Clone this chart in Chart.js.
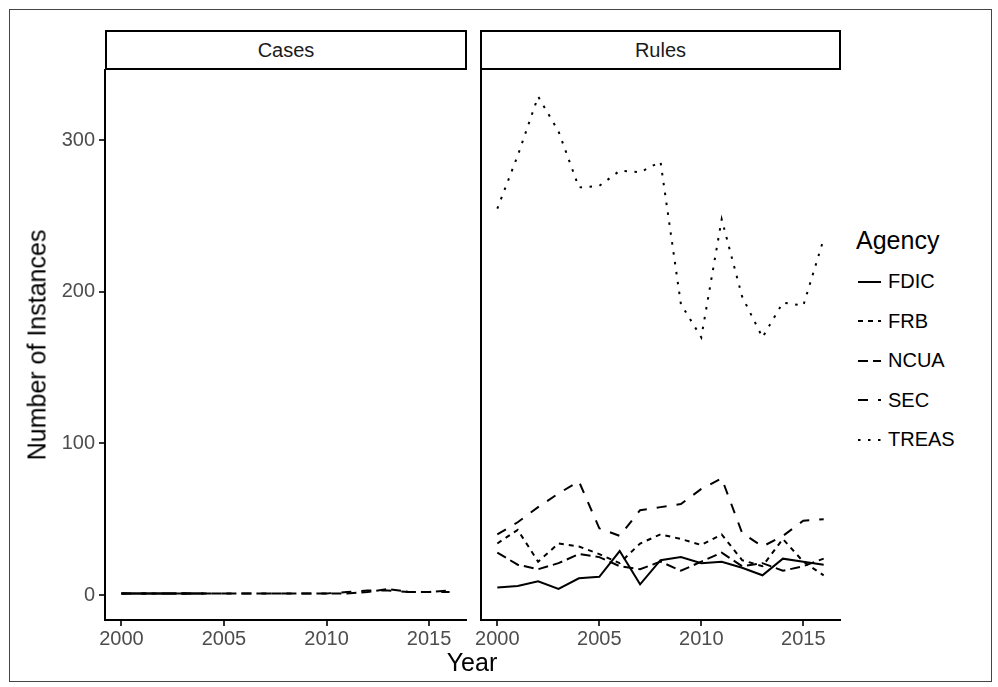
<!DOCTYPE html>
<html>
<head>
<meta charset="utf-8">
<script src="https://cdn.jsdelivr.net/npm/chart.js@4/dist/chart.umd.min.js"></script>
<style>
  body { margin: 0; background: #fff; font-family: "Liberation Sans", Arial, sans-serif; }
  #wrap { position: relative; width: 998px; height: 687px; overflow: hidden; }
  #frame { position: absolute; left: 9px; top: 9px; width: 983px; height: 673px; border: 1px solid #444; box-sizing: border-box; }
  canvas { position: absolute; top: 0; }
  .strip { position: absolute; top: 30px; height: 40px; border: 2px solid #000; box-sizing: border-box;
           background: #fff; text-align: center; line-height: 36px; font-size: 20px; color: #1a1a1a; }
  #ytitle { position: absolute; left: 37px; top: 345px; transform: translate(-50%, -50%) rotate(-90deg);
            font-size: 25px; white-space: nowrap; color: #000; }
  #xtitle { position: absolute; left: 472px; top: 662px; transform: translate(-50%, -50%); font-size: 25px; color: #000; }
  #legend { position: absolute; left: 856px; top: 225px; }
  #legend .ttl { font-size: 25px; height: 30px; line-height: 30px; margin-bottom: 7px; }
  #legend .row { height: 39.5px; display: flex; align-items: center; font-size: 20px; }
  #legend svg { margin-left: 2px; margin-right: 7px; }
</style>
</head>
<body>
<div id="wrap">
  <div id="frame"></div>
  <canvas id="cases" width="470" height="687" style="left:0"></canvas>
  <canvas id="rules" width="375" height="687" style="left:470px"></canvas>
  <div class="strip" style="left:105px;width:362px">Cases</div>
  <div class="strip" style="left:480px;width:361px">Rules</div>
  <div id="ytitle">Number of Instances</div>
  <div id="xtitle">Year</div>
  <div id="legend"><div class="ttl">Agency</div></div>
</div>
<script>
const years = [2000, 2001, 2002, 2003, 2004, 2005, 2006, 2007, 2008, 2009, 2010, 2011, 2012, 2013, 2014, 2015, 2016];
const agencies = ["FDIC", "FRB", "NCUA", "SEC", "TREAS"];
const xTicks = [2000, 2005, 2010, 2015];
const yTicks = [0, 100, 200, 300];

// Rules panel
const rulesFDIC  = [5, 6, 9, 4, 11, 12, 29, 7, 23, 25, 21, 22, 18, 13, 24, 22, 20];
const rulesFRB   = [34, 43, 22, 34, 32, 27, 21, 34, 40, 37, 33, 40, 23, 19, 37, 22, 13];
const rulesNCUA  = [28, 20, 17, 21, 27, 25, 19, 17, 22, 16, 22, 28, 19, 21, 16, 19, 24];
const rulesSEC   = [40, 48, 58, 67, 75, 44, 39, 56, 58, 60, 70, 77, 41, 32, 39, 49, 50];
const rulesTREAS = [255, 290, 329, 306, 269, 270, 280, 279, 286, 192, 170, 248, 197, 170, 193, 191, 235];

// Cases panel
const casesFDIC  = [1, 1, 1, 1, 1, null, null, null, null, null, null, null, null, null, null, null, null];
const casesFRB   = [1, 1, 1, 1, 1, null, null, null, null, null, null, null, null, null, null, null, null];
const casesNCUA  = [1, 1, 1, 1, 1, 1, 1, 1, 1, 1, 1, 1, 2, 4, 2, 2, 3];
const casesSEC   = [1, 1, 1, 1, 1, 1, 1, 1, 1, 1, 1, 2, 3, 3, 2, 2, 2];
const casesTREAS = [null, null, null, null, null, null, null, null, null, null, null, null, null, null, null, null, null];

// ggplot linetypes: solid, 22, 42, 44, 13
const dashes = [[], [5, 5], [10, 5], [10, 10], [2.5, 7.5]];

function pairs(vals) {
  return years.map((y, i) => ({ x: y, y: vals[i] }));
}

function makeSets(list) {
  return list.map((vals, i) => ({
    label: agencies[i],
    data: pairs(vals),
    borderColor: "#000",
    borderWidth: 2,
    borderDash: dashes[i],
    pointRadius: 0,
    tension: 0,
    spanGaps: false
  }));
}

const tickFont = { size: 20, family: "Liberation Sans" };

function opts(first) {
  return {
    responsive: false,
    animation: false,
    layout: { padding: { top: 70, right: first ? 4 : 5, left: 0, bottom: 0 } },
    plugins: { legend: { display: false }, tooltip: { enabled: false } },
    scales: {
      x: {
        type: "linear", min: 1999.2, max: 2016.8,
        afterBuildTicks: s => { s.ticks = xTicks.map(v => ({ value: v })); },
        afterFit: s => { s.height = 67; },
        ticks: { color: "#4d4d4d", font: tickFont, padding: 1, maxRotation: 0, callback: v => String(v) },
        grid: { drawOnChartArea: false, drawTicks: true, tickLength: 6, color: "#333", lineWidth: 2 },
        border: { display: true, color: "#000", width: 2 }
      },
      y: {
        min: -16.5, max: 346.5,
        afterBuildTicks: s => { s.ticks = yTicks.map(v => ({ value: v })); },
        afterFit: s => { s.width = first ? 105 : 11; },
        ticks: { display: first, color: "#4d4d4d", font: tickFont, padding: 4, callback: v => String(v) },
        grid: { drawOnChartArea: false, drawTicks: first, tickLength: 6, color: "#333", lineWidth: 2 },
        border: { display: true, color: "#000", width: 2 }
      }
    }
  };
}

new Chart(document.getElementById("cases"), {
  type: "line",
  data: { datasets: makeSets([casesFDIC, casesFRB, casesNCUA, casesSEC, casesTREAS]) },
  options: opts(true)
});

new Chart(document.getElementById("rules"), {
  type: "line",
  data: { datasets: makeSets([rulesFDIC, rulesFRB, rulesNCUA, rulesSEC, rulesTREAS]) },
  options: opts(false)
});

// legend
const leg = document.getElementById("legend");
agencies.forEach((a, i) => {
  const row = document.createElement("div");
  row.className = "row";
  row.innerHTML = '<svg width="23" height="6"><line x1="0" y1="3" x2="23" y2="3" stroke="#000" stroke-width="2"' +
    (dashes[i].length ? ' stroke-dasharray="' + dashes[i].join(" ") + '"' : '') + '/></svg><span>' + a + '</span>';
  leg.appendChild(row);
});
</script>
</body>
</html>
